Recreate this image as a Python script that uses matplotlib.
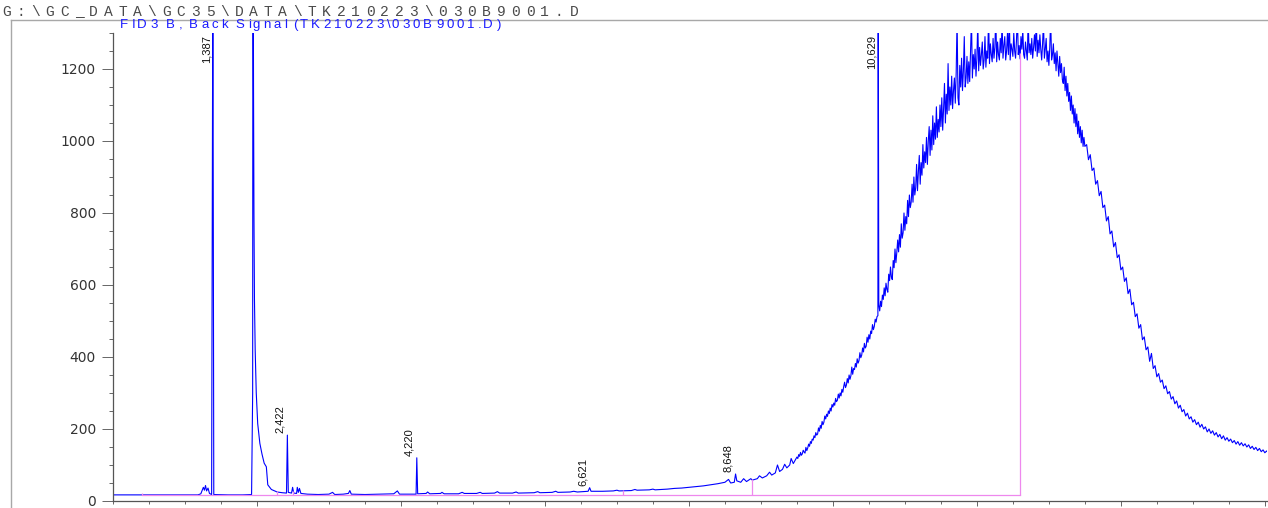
import numpy as np
import matplotlib
matplotlib.use("Agg")
import matplotlib.pyplot as plt
from matplotlib.lines import Line2D
from matplotlib.ticker import FixedLocator, MultipleLocator
from matplotlib.font_manager import FontProperties

W, H = 1268, 508

file_path = "G:\\GC_DATA\\GC35\\DATA\\TK210223\\030B9001.D"
signal_title = "FID3 B, Back Signal (TK210223\\030B9001.D)"

# Integrated peaks: retention time (min), apex height (pA), label
peak_rt = [1.387, 2.422, 4.220, 6.621, 8.648, 10.629]
peak_height = [1500, 183, 120, 37, 75, 1500]
peak_label = ["1,387", "2,422", "4,220", "6,621", "8,648", "10,629"]

# Detector trace, 0 - 9.5 min (solvent front and flat baseline)
early_t = [0.00, 0.40, 1.18, 1.22, 1.255, 1.27, 1.285, 1.30, 1.32, 1.34, 1.37,
           1.40, 1.60, 1.80, 1.925, 1.940, 1.944, 1.948, 1.952, 1.958, 1.965,
           1.975, 1.99, 2.01, 2.04, 2.07, 2.10, 2.13, 2.15, 2.20, 2.28, 2.35,
           2.41, 2.435, 2.48, 2.495, 2.51, 2.55, 2.56, 2.575, 2.59, 2.61, 2.70,
           2.85, 3.00, 3.05, 3.08, 3.20, 3.27, 3.29, 3.31, 3.50, 3.70, 3.90,
           3.95, 3.98, 4.21, 4.232, 4.35, 4.37, 4.40, 4.55, 4.57, 4.60, 4.80,
           4.85, 4.88, 5.05, 5.10, 5.13, 5.30, 5.34, 5.37, 5.55, 5.60, 5.63,
           5.85, 5.90, 5.93, 6.10, 6.15, 6.18, 6.35, 6.40, 6.45, 6.60, 6.64,
           6.80, 6.95, 7.00, 7.03, 7.20, 7.25, 7.28, 7.45, 7.50, 7.53, 7.70,
           7.80, 7.90, 8.00, 8.10, 8.20, 8.30, 8.40, 8.50, 8.55, 8.58, 8.63,
           8.665, 8.72, 8.76, 8.80, 8.86, 8.88, 8.95, 8.98, 9.02, 9.08, 9.12,
           9.15, 9.20, 9.23, 9.26, 9.30, 9.33, 9.36, 9.40, 9.42, 9.45, 9.48]
early_v = [17, 17, 17, 20, 38, 30, 43, 28, 36, 21, 18,
           18, 17, 17, 18, 300, 2000, 1500, 1150, 800, 560,
           420, 300, 215, 160, 130, 105, 95, 45, 32, 25, 23,
           22, 24, 22, 38, 22, 21, 38, 24, 35, 21, 19,
           18, 19, 24, 18, 19, 21, 29, 19, 18, 19, 20,
           28, 19, 19, 20, 21, 25, 20, 21, 24, 20, 20,
           24, 21, 21, 24, 21, 22, 26, 22, 22, 25, 22,
           23, 26, 23, 24, 27, 24, 25, 27, 25, 27, 27,
           27, 28, 30, 28, 29, 32, 30, 31, 33, 31, 33,
           35, 36, 38, 40, 42, 45, 48, 52, 60, 50, 52,
           56, 52, 62, 54, 62, 58, 62, 70, 64, 70, 80,
           72, 78, 100, 82, 88, 102, 92, 100, 118, 104, 115]

# Column-bleed hump, 9.50 - 13.50 min every 0.0125 min
hump_v = [122, 118, 129, 124, 135, 127, 131, 141, 136, 133, 149, 140, 147, 158, 152, 165,
          160, 172, 169, 181, 176, 190, 183, 186, 203, 194, 210, 202, 221, 212, 219, 236,
          228, 241, 235, 250, 243, 258, 250, 268, 261, 272, 266, 285, 276, 280, 297, 286,
          300, 292, 310, 302, 318, 330, 315, 322, 340, 328, 350, 338, 348, 372, 352, 368,
          365, 382, 372, 395, 383, 390, 412, 398, 405, 425, 414, 438, 425, 430, 455, 441,
          462, 450, 472, 465, 490, 476, 485, 505, 497, 512, 515, 545, 528, 555, 540, 572,
          560, 592, 570, 605, 588, 580, 630, 612, 650, 622, 615, 668, 648, 700, 662, 690,
          725, 692, 740, 705, 770, 730, 745, 800, 752, 790, 770, 835, 790, 850, 815, 830,
          880, 830, 900, 850, 870, 935, 862, 915, 960, 880, 940, 905, 990, 925, 970, 940,
          1010, 935, 1000, 1040, 960, 1030, 975, 1070, 990, 1050, 1005, 1095, 1010, 1060, 1025, 1100,
          1040, 1120, 1030, 1090, 1160, 1050, 1130, 1075, 1215, 1085, 1150, 1100, 1180, 1090, 1140, 1175,
          1105, 1190, 1340, 1120, 1100, 1210, 1150, 1230, 1140, 1195, 1290, 1150, 1175, 1235, 1160, 1220,
          1165, 1250, 1340, 1175, 1240, 1200, 1255, 1180, 1230, 1330, 1195, 1260, 1210, 1240, 1275, 1200,
          1225, 1290, 1205, 1250, 1230, 1345, 1215, 1270, 1240, 1220, 1285, 1230, 1260, 1350, 1220, 1275,
          1240, 1225, 1285, 1245, 1330, 1230, 1265, 1290, 1225, 1250, 1300, 1240, 1345, 1225, 1270, 1255,
          1235, 1300, 1250, 1230, 1280, 1350, 1240, 1265, 1228, 1290, 1255, 1310, 1240, 1230, 1275, 1250,
          1225, 1340, 1245, 1270, 1240, 1285, 1230, 1260, 1295, 1250, 1350, 1235, 1280, 1245, 1295, 1255,
          1225, 1270, 1330, 1230, 1255, 1285, 1220, 1250, 1210, 1260, 1340, 1225, 1240, 1270, 1215, 1245,
          1195, 1250, 1215, 1180, 1235, 1190, 1215, 1170, 1160, 1205, 1140, 1180, 1125, 1160, 1110, 1135,
          1085, 1125, 1075, 1100, 1050, 1090, 1040, 1075, 1020, 1055, 1010, 1040, 995, 1030, 985, 1010,
          985]

# Falling side of the hump, 13.525 - 16.05 min every 0.025 min
tail_v = [990, 948, 962, 918, 925, 880, 890, 848,
          860, 815, 822, 778, 790, 742, 750, 706,
          718, 676, 684, 642, 650, 610, 620, 576,
          588, 545, 552, 512, 520, 480, 490, 448,
          456, 420, 428, 388, 410, 368, 376, 345,
          354, 330, 336, 312, 320, 298, 304, 283,
          290, 270, 278, 258, 266, 248, 254, 236,
          244, 228, 234, 219, 226, 212, 219, 205,
          213, 200, 206, 192, 200, 188, 195, 183,
          190, 178, 185, 173, 181, 169, 176, 166,
          172, 162, 168, 158, 165, 155, 162, 153,
          159, 150, 156, 146, 152, 143, 149, 140,
          146, 137, 142, 134, 139, 133]

# Integration baseline and drop lines
baseline_t = [0.40, 12.60]
baseline_v = [16, 16]
drop_t = [0.40, 2.28, 2.50, 7.08, 8.87, 12.60]
drop_v = [22, 29, 29, 31, 60, 1244]

y_major = [0, 200, 400, 600, 800, 1000, 1200]
x_major = [2, 4, 6, 8, 10, 12, 14, 16]
x_labels = ["2", "4", "6", "8", "10", "12", "14", ""]

# ---------------------------------------------------------------------------
fig = plt.figure(figsize=(W / 100, H / 100), dpi=100)
fig.patch.set_facecolor("white")


def fx(px):
    return px / W


def fy(py):
    return 1 - py / H


ax = fig.add_axes([fx(113), fy(501), fx(1267) - fx(113), fy(33) - fy(501)])
ax.set_facecolor("none")

hump_t = np.linspace(9.5, 13.5, len(hump_v))
tail_t = np.linspace(13.525, 16.05, len(tail_v))
trace_t = np.concatenate([early_t, hump_t, tail_t, peak_rt])
trace_v = np.concatenate([early_v, hump_v, tail_v, peak_height])
order = np.argsort(trace_t, kind="stable")
ax.plot(trace_t[order], trace_v[order], color="#0000ff", lw=0.8, zorder=2)

pink = "#ee88ee"
ax.plot(baseline_t, baseline_v, color=pink, lw=0.9, zorder=3)
ax.vlines(drop_t, baseline_v[0], drop_v, color=pink, lw=0.9, zorder=3)

ax.set_xlim(0, 16.03)
ax.set_ylim(0, 1300)

for side in ("top", "right"):
    ax.spines[side].set_visible(False)
for side in ("left", "bottom"):
    ax.spines[side].set_color("#555555")
    ax.spines[side].set_linewidth(0.9)

ax.yaxis.set_major_locator(FixedLocator(y_major))
ax.yaxis.set_minor_locator(MultipleLocator(50))
ax.xaxis.set_major_locator(FixedLocator(x_major))
ax.xaxis.set_minor_locator(MultipleLocator(0.5))
ax.set_xticklabels(x_labels)

ax.tick_params(axis="y", which="major", direction="out", length=7.9, width=0.7,
               color="#666666", pad=4.3, labelsize=10, labelcolor="#333333")
ax.tick_params(axis="y", which="minor", direction="out", length=2.9, width=0.7,
               color="#666666")
ax.tick_params(axis="x", which="major", direction="out", length=3.6, width=0.7,
               color="#666666", pad=0.6, labelsize=10, labelcolor="#333333")
ax.tick_params(axis="x", which="minor", direction="out", length=1.8, width=0.7,
               color="#666666")
for lab in ax.get_yticklabels() + ax.get_xticklabels():
    lab.set_family("DejaVu Sans")

# Retention-time labels, rotated, beside each apex
label_font = ["Liberation Sans Narrow", "Liberation Sans", "DejaVu Sans"]
ymax = ax.get_ylim()[1]
for rt, h, lab in zip(peak_rt, peak_height, peak_label):
    if h >= ymax:
        ax.annotate(lab, xy=(rt, ymax), xytext=(-1.2, -1.5),
                    textcoords="offset points", rotation=90, ha="right",
                    va="top", fontsize=8, family=label_font, color="#111111",
                    annotation_clip=False)
    else:
        ax.annotate(lab, xy=(rt, h), xytext=(-1.5, 1.5),
                    textcoords="offset points", rotation=90, ha="right",
                    va="bottom", fontsize=8, family=label_font,
                    color="#111111")

# Outer report frame
frame_col = "#a8a8a8"
fig.add_artist(Line2D([fx(11), fx(11)], [0, fy(20)], transform=fig.transFigure,
                      color=frame_col, lw=1.0))
fig.add_artist(Line2D([fx(11), 1], [fy(20), fy(20)], transform=fig.transFigure,
                      color=frame_col, lw=1.0))

renderer = fig.canvas.get_renderer()


def advance(s, prop):
    w_full = renderer.get_text_width_height_descent("x" + s + "x", prop, False)[0]
    w_pad = renderer.get_text_width_height_descent("xx", prop, False)[0]
    return w_full - w_pad


def spread_text(s, x0, x1, y, prop, color):
    """Lay out s character by character so it spans x0..x1 pixels."""
    total = advance(s, prop)
    scale = (x1 - x0) / total
    for i, ch in enumerate(s):
        x = x0 + advance(s[:i], prop) * scale if i else x0
        fig.text(fx(x), fy(y), ch, fontproperties=prop, color=color,
                 ha="left", va="center")


path_prop = FontProperties(family=["Liberation Mono", "DejaVu Sans Mono"], size=10.5)
spread_text(file_path, 2, 584, 12, path_prop, "#4a4a4a")

title_prop = FontProperties(family=["Liberation Sans", "DejaVu Sans"], size=9.5)
spread_text(signal_title, 120, 503, 25, title_prop, "#1a1aff")

fig.savefig("out.png", dpi=100)
